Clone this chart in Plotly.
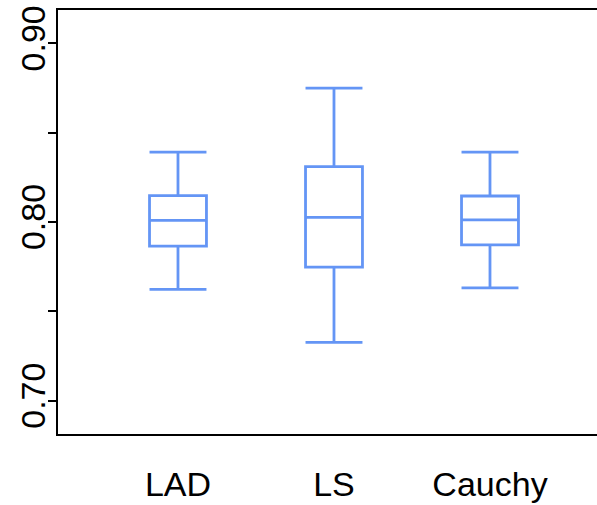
import plotly.graph_objects as go

categories = ["LAD", "LS", "Cauchy"]
positions = [1, 2, 3]
lower_whisker = [0.7623, 0.7327, 0.7632]
q1 = [0.7866, 0.7748, 0.7873]
median = [0.8010, 0.8026, 0.8012]
q3 = [0.8148, 0.8310, 0.8146]
upper_whisker = [0.8392, 0.8750, 0.8392]

ytick_vals = [0.70, 0.75, 0.80, 0.85, 0.90]
ytick_text = ["0.70", "", "0.80", "", "0.90"]

color = "#6495F5"
fig = go.Figure()
fig.add_trace(go.Box(
    x=positions, q1=q1, median=median, q3=q3,
    lowerfence=lower_whisker, upperfence=upper_whisker,
    width=0.365, whiskerwidth=1,
    line=dict(color=color, width=2.8),
    fillcolor="rgba(0,0,0,0)",
    boxpoints=False, hoverinfo="skip", showlegend=False,
))

font = dict(family="Liberation Sans, Arial, sans-serif", size=34, color="black")
fig.update_layout(
    width=597, height=505,
    margin=dict(l=58, r=0, t=10, b=71),
    paper_bgcolor="white", plot_bgcolor="white",
    font=font,
    xaxis=dict(
        range=[0.2308, 3.686], tickvals=positions, ticktext=categories,
        showline=True, linecolor="black", linewidth=2, mirror=True,
        showgrid=False, zeroline=False, ticks="", ticklabelstandoff=19,
        tickfont=font, automargin=False,
    ),
    yaxis=dict(
        range=[0.6814, 0.9187], tickvals=ytick_vals, ticktext=ytick_text,
        showline=True, linecolor="black", linewidth=2,
        showgrid=False, zeroline=False, ticks="outside", ticklen=8,
        tickwidth=2, tickcolor="black", tickangle=-90, tickfont=font,
        automargin=False, ticklabelstandoff=-11,
    ),
)
fig.write_html("out.html")
